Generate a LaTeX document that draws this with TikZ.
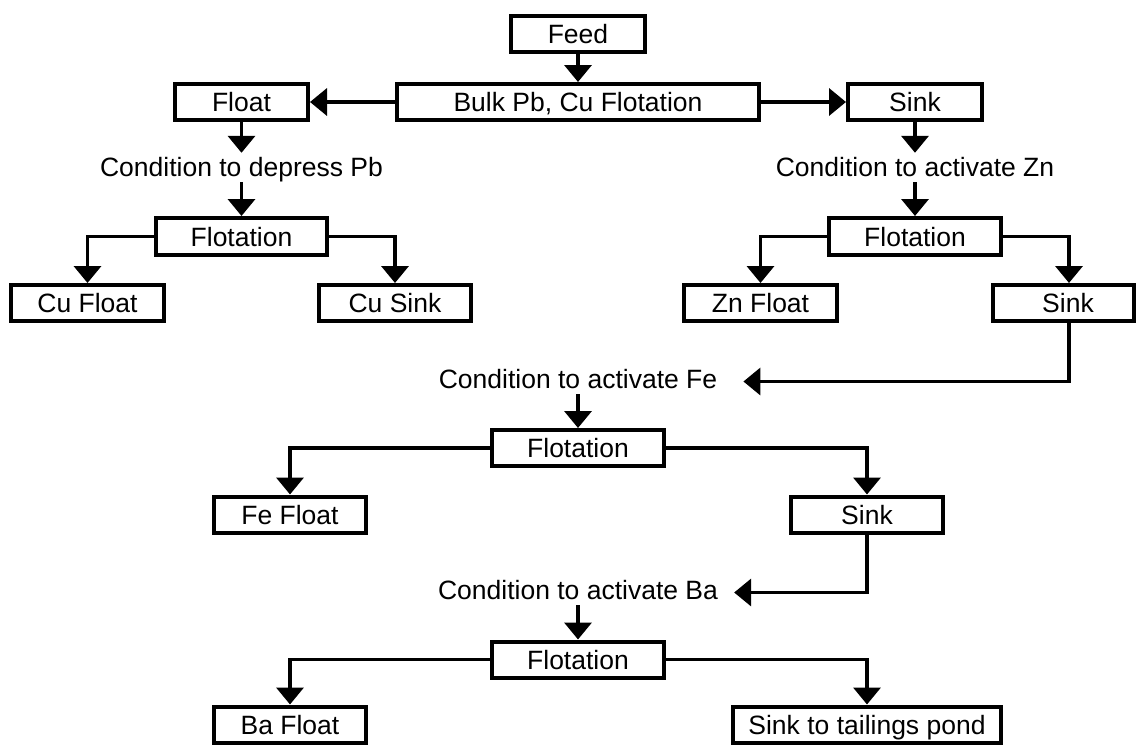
\documentclass[tikz,border=0pt]{standalone}
\usepackage{fontspec}
\setmainfont{Liberation Sans}
\usetikzlibrary{arrows.meta}
\newcommand\diafont{\fontsize{26.5}{30}\selectfont}
\begin{document}
\begin{tikzpicture}[x=1pt,y=-1pt,
  box/.style={draw, line width=4pt, minimum height=36pt, inner sep=0pt,
              text height=19pt, text depth=0pt, font=\diafont},
  lbl/.style={inner sep=0pt, text height=19pt, text depth=6pt, font=\diafont},
  link/.style={line width=3.6pt},
  arr/.style={link, -{Triangle[length=17pt,width=27pt]}}
]
\useasboundingbox (0,0) rectangle (1137,744);
% boxes
\node[box, minimum width=134pt] (feed)    at (578,34)    {Feed};
\node[box, minimum width=362pt] (bulk)    at (578,102)   {Bulk Pb, Cu Flotation};
\node[box, minimum width=133pt] (float)   at (241.5,102) {Float};
\node[box, minimum width=134pt] (sinkA)   at (915,102)   {Sink};
\node[lbl] (condPb) at (241.5,169.5) {Condition to depress Pb};
\node[lbl] (condZn) at (915,169.5)   {Condition to activate Zn};
\node[box, minimum width=171pt, minimum height=37pt] (flotA) at (241.5,236.5) {Flotation};
\node[box, minimum width=172pt, minimum height=37pt] (flotB) at (915,236.5)   {Flotation};
\node[box, minimum width=153pt] (cufloat) at (87.5,303)  {Cu Float};
\node[box, minimum width=152pt] (cusink)  at (395,303)   {Cu Sink};
\node[box, minimum width=153pt] (znfloat) at (760.5,303) {Zn Float};
\node[box, minimum width=141pt] (sinkB)   at (1063.5,303) {\hspace{9pt}Sink};
\node[lbl] (condFe) at (578,381.5) {Condition to activate Fe};
\node[box, minimum width=172pt] (flotC)   at (578,448)   {Flotation};
\node[box, minimum width=152pt] (fefloat) at (290,514.5) {Fe Float};
\node[box, minimum width=152pt] (sinkC)   at (867,514.5) {Sink};
\node[lbl] (condBa) at (578,592.5) {Condition to activate Ba};
\node[box, minimum width=172pt] (flotD)   at (578,659.5) {Flotation};
\node[box, minimum width=152pt] (bafloat) at (290,724.5) {Ba Float};
\node[box, minimum width=268pt] (tail)    at (867,724.5) {Sink to tailings pond};
% connectors
\draw[arr] (feed) -- (bulk);
\draw[arr] (bulk) -- (float);
\draw[arr] (bulk) -- (sinkA);
\draw[arr] (float.south) -- ([yshift=4pt]condPb.north);
\draw[arr] (condPb.south) -- (flotA.north);
\draw[arr] (flotA.west) -| (cufloat.north);
\draw[arr] (flotA.east) -| (cusink.north);
\draw[arr] (sinkA.south) -- ([yshift=4pt]condZn.north);
\draw[arr] (condZn.south) -- (flotB.north);
\draw[arr] (flotB.west) -| (znfloat.north);
\draw[arr] (flotB.east) -| ([xshift=5.5pt]sinkB.north);
\draw[arr] ([xshift=5.5pt]sinkB.south) |- ([xshift=26pt]condFe.east);
\draw[arr] (condFe.south) -- (flotC.north);
\draw[arr] (flotC.west) -| (fefloat.north);
\draw[arr] (flotC.east) -| (sinkC.north);
\draw[arr] (sinkC.south) |- ([xshift=16pt]condBa.east);
\draw[arr] (condBa.south) -- (flotD.north);
\draw[arr] (flotD.west) -| (bafloat.north);
\draw[arr] (flotD.east) -| (tail.north);
\end{tikzpicture}
\end{document}
